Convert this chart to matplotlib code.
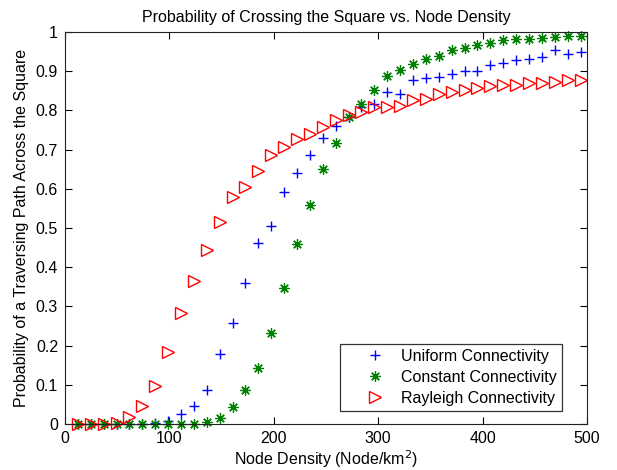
import numpy as np
import matplotlib
matplotlib.use("Agg")
import matplotlib.pyplot as plt

plt.rcParams['font.family'] = ['Liberation Sans', 'DejaVu Sans']

# Node density: N = 10..400 nodes in a 0.81 km^2 square
nodes = np.arange(10, 410, 10)
density = nodes / 0.81

uniform = [0, 0, 0, 0, 0, 0, 0.002, 0.008, 0.026, 0.045,
           0.088, 0.178, 0.257, 0.359, 0.462, 0.504, 0.593, 0.641, 0.686, 0.729,
           0.759, 0.784, 0.808, 0.816, 0.848, 0.842, 0.877, 0.882, 0.886, 0.892,
           0.900, 0.900, 0.917, 0.922, 0.929, 0.930, 0.937, 0.953, 0.944, 0.950]
constant = [0, 0, 0, 0, 0, 0, 0, 0, 0, 0,
            0.006, 0.016, 0.043, 0.087, 0.142, 0.231, 0.346, 0.458, 0.559, 0.650,
            0.718, 0.782, 0.816, 0.852, 0.887, 0.903, 0.919, 0.930, 0.939, 0.954,
            0.960, 0.966, 0.972, 0.979, 0.981, 0.983, 0.985, 0.987, 0.990, 0.991]
rayleigh = [0.001, 0.001, 0.001, 0.003, 0.017, 0.047, 0.098, 0.184, 0.282, 0.366,
            0.444, 0.516, 0.580, 0.605, 0.645, 0.687, 0.706, 0.726, 0.739, 0.758,
            0.776, 0.787, 0.797, 0.808, 0.809, 0.811, 0.827, 0.829, 0.841, 0.846,
            0.853, 0.858, 0.862, 0.865, 0.866, 0.869, 0.870, 0.873, 0.878, 0.878]

labels = ['Uniform Connectivity', 'Constant Connectivity', 'Rayleigh Connectivity']

fs = 11.5
fig = plt.figure(figsize=(6.17, 4.70), dpi=100)
ax = fig.add_axes([65/617, 46/470, 522/617, 392/470])

ax.plot(density, uniform, linestyle='none', marker='+', color=(0, 0, 1),
        markersize=7.5, markeredgewidth=1.0, clip_on=False, label=labels[0])
ax.plot(density, constant, linestyle='none', marker=(8, 2, 0), color=(0, 0.5, 0),
        markersize=7.5, markeredgewidth=0.9, clip_on=False, label=labels[1])
ax.plot(density, rayleigh, linestyle='none', marker='>', color=(1, 0, 0),
        markerfacecolor='none', markersize=8, markeredgewidth=1.0, clip_on=False,
        label=labels[2])

ax.set_xlim(0, 500)
ax.set_ylim(0, 1)
ax.set_xticks(np.arange(0, 501, 100))
ax.set_yticks(np.arange(0, 1.01, 0.1))
ax.set_yticklabels(['0', '0.1', '0.2', '0.3', '0.4', '0.5', '0.6', '0.7', '0.8', '0.9', '1'])
ax.tick_params(direction='in', top=True, right=True, length=5, width=0.8,
               labelsize=fs, colors='black', pad=5)
for s in ax.spines.values():
    s.set_linewidth(0.8)
    s.set_color('#222222')

ax.set_title('Probability of Crossing the Square vs. Node Density', fontsize=fs, pad=7)
ax.set_xlabel('Node Density (Node/km$^2$)', fontsize=fs, labelpad=1.5)
ax.set_ylabel('Probability of a Traversing Path Across the Square', fontsize=fs, labelpad=5)

leg = ax.legend(loc='lower right', bbox_to_anchor=((562-65)/522, (424-410.7)/392),
                borderaxespad=0, fancybox=False, edgecolor='black', fontsize=fs,
                handletextpad=-0.25, labelspacing=0.38, borderpad=0.3, handlelength=3.8)
leg.get_frame().set_linewidth(0.9)

fig.savefig('out.png', dpi=100)
